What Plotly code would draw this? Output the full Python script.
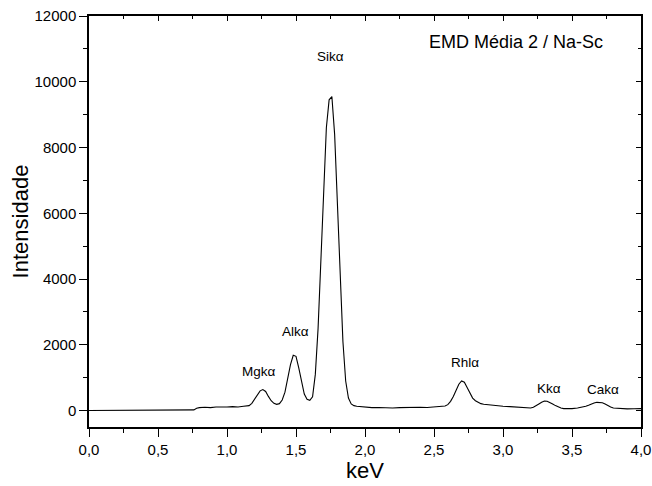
import plotly.graph_objects as go

# Spectrum data (keV, counts)
kev = [0.00, 0.74, 0.76, 0.78, 0.80, 0.84, 0.88, 0.92, 0.96, 1.00, 1.04, 1.08, 1.12, 1.14, 1.16,
       1.18, 1.20, 1.22, 1.24, 1.26, 1.28, 1.30, 1.32, 1.34, 1.36, 1.38,
       1.40, 1.42, 1.44, 1.46, 1.48, 1.50, 1.52, 1.54, 1.56, 1.58, 1.60, 1.62,
       1.64, 1.66, 1.68, 1.70, 1.72, 1.74, 1.76, 1.78, 1.80, 1.82, 1.84, 1.86, 1.88, 1.90, 1.92, 1.94, 1.96,
       2.00, 2.05, 2.10, 2.15, 2.20, 2.25, 2.30, 2.35, 2.40, 2.45, 2.50, 2.55, 2.58,
       2.60, 2.62, 2.64, 2.66, 2.68, 2.70, 2.72, 2.74, 2.76, 2.78, 2.80, 2.82, 2.84, 2.86, 2.90, 2.95,
       3.00, 3.05, 3.10, 3.15, 3.20,
       3.22, 3.24, 3.26, 3.28, 3.30, 3.32, 3.34, 3.36, 3.38, 3.40, 3.42, 3.44, 3.46, 3.50, 3.54, 3.58, 3.60,
       3.62, 3.64, 3.66, 3.68, 3.70, 3.72, 3.74, 3.76, 3.78, 3.80, 3.85, 3.90, 3.95, 4.00]
counts = [0, 0, 20, 70, 90, 100, 90, 110, 100, 110, 120, 110, 130, 130, 150,
          220, 340, 480, 600, 640, 580, 430, 300, 220, 190, 210,
          320, 560, 950, 1400, 1680, 1650, 1300, 850, 500, 340, 310, 420,
          1100, 2500, 4500, 6800, 8600, 9450, 9550, 8400, 6300, 4000, 2100, 900, 380, 200, 150, 130, 120,
          100, 90, 95, 85, 80, 90, 100, 90, 100, 95, 110, 120, 140,
          180, 280, 430, 620, 800, 900, 860, 700, 520, 380, 300, 250, 210, 190, 170, 150,
          130, 120, 100, 90, 80,
          100, 140, 200, 250, 290, 285, 250, 200, 150, 110, 80, 60, 55, 60, 80, 100, 130,
          160, 200, 230, 250, 255, 240, 200, 150, 110, 80, 60, 50, 55, 60]

# Peak labels
peak_names = ["Mgkα", "Alkα", "Sikα", "Rhlα", "Kkα", "Cakα"]
peak_x = [1.233, 1.494, 1.752, 2.722, 3.335, 3.725]
peak_y = [1185, 2400, 10766, 1458, 680, 650]

chart_label = "EMD Média 2 / Na-Sc"
x_tickvals = [0.0, 0.5, 1.0, 1.5, 2.0, 2.5, 3.0, 3.5, 4.0]
x_ticktext = ["0,0", "0,5", "1,0", "1,5", "2,0", "2,5", "3,0", "3,5", "4,0"]
y_tickvals = [0, 2000, 4000, 6000, 8000, 10000, 12000]
y_ticktext = ["0", "2000", "4000", "6000", "8000", "10000", "12000"]

FONT = "Liberation Sans, Arial, Helvetica, sans-serif"

fig = go.Figure()
fig.add_trace(go.Scatter(x=kev, y=counts, mode="lines",
                         line=dict(color="black", width=1.1), showlegend=False,
                         hoverinfo="skip"))
# invisible trace to host the mirrored (top/right) axes
fig.add_trace(go.Scatter(x=kev, y=counts, mode="lines", xaxis="x2", yaxis="y2",
                         line=dict(color="rgba(0,0,0,0)", width=0), showlegend=False,
                         hoverinfo="skip"))

for name, px, py in zip(peak_names, peak_x, peak_y):
    fig.add_annotation(x=px, y=py, text=name, showarrow=False,
                       xanchor="center", yanchor="middle",
                       font=dict(family=FONT, size=13.5, color="black"))
fig.add_annotation(x=3.094, y=11216, text=chart_label, showarrow=False,
                   xanchor="center", yanchor="middle",
                   font=dict(family=FONT, size=18, color="black"))

xr = [0, 4.0]
yr = [-500, 12000]

fig.update_layout(
    width=652, height=486,
    margin=dict(l=89, r=11, t=16, b=59),
    paper_bgcolor="white", plot_bgcolor="white",
    font=dict(family=FONT, size=15, color="black"),
    xaxis=dict(range=xr, showgrid=False, zeroline=False, showline=True, automargin=False,
               linecolor="black", linewidth=1.5,
               tickmode="array", tickvals=x_tickvals, ticktext=x_ticktext,
               ticks="outside", ticklen=8, tickwidth=1.3, tickcolor="black",
               minor=dict(ticks="outside", dtick=0.25, tick0=0, ticklen=4,
                          tickwidth=1.3, tickcolor="black"),
               tickfont=dict(family=FONT, size=15),
               title=dict(text="keV", font=dict(family=FONT, size=22), standoff=1)),
    yaxis=dict(range=yr, showgrid=False, zeroline=False, showline=True, automargin=False,
               linecolor="black", linewidth=1.5,
               tickmode="array", tickvals=y_tickvals, ticktext=y_ticktext,
               ticks="outside", ticklen=8, tickwidth=1.3, tickcolor="black",
               minor=dict(ticks="outside", dtick=1000, tick0=0, ticklen=4,
                          tickwidth=1.3, tickcolor="black"),
               tickfont=dict(family=FONT, size=15),
               title=dict(text="Intensidade", font=dict(family=FONT, size=22), standoff=0)),
    xaxis2=dict(range=xr, overlaying="x", side="top", anchor="y", automargin=False,
                showgrid=False, zeroline=False, showline=True,
                linecolor="black", linewidth=1.5, showticklabels=False,
                tickmode="array", tickvals=x_tickvals,
                ticks="inside", ticklen=5, tickwidth=1.3, tickcolor="black",
                minor=dict(ticks="inside", dtick=0.25, tick0=0, ticklen=3,
                           tickwidth=1.3, tickcolor="black")),
    yaxis2=dict(range=yr, overlaying="y", side="right", anchor="x", automargin=False,
                showgrid=False, zeroline=False, showline=True,
                linecolor="black", linewidth=1.5, showticklabels=False,
                tickmode="array", tickvals=y_tickvals,
                ticks="inside", ticklen=5, tickwidth=1.3, tickcolor="black",
                minor=dict(ticks="inside", dtick=1000, tick0=0, ticklen=3,
                           tickwidth=1.3, tickcolor="black")),
)

# remove the default 8px page margin so the figure sits at the window's top-left corner
fig.write_html("out.html", config={"displayModeBar": False},
               post_script="document.body.style.margin='0px';")
